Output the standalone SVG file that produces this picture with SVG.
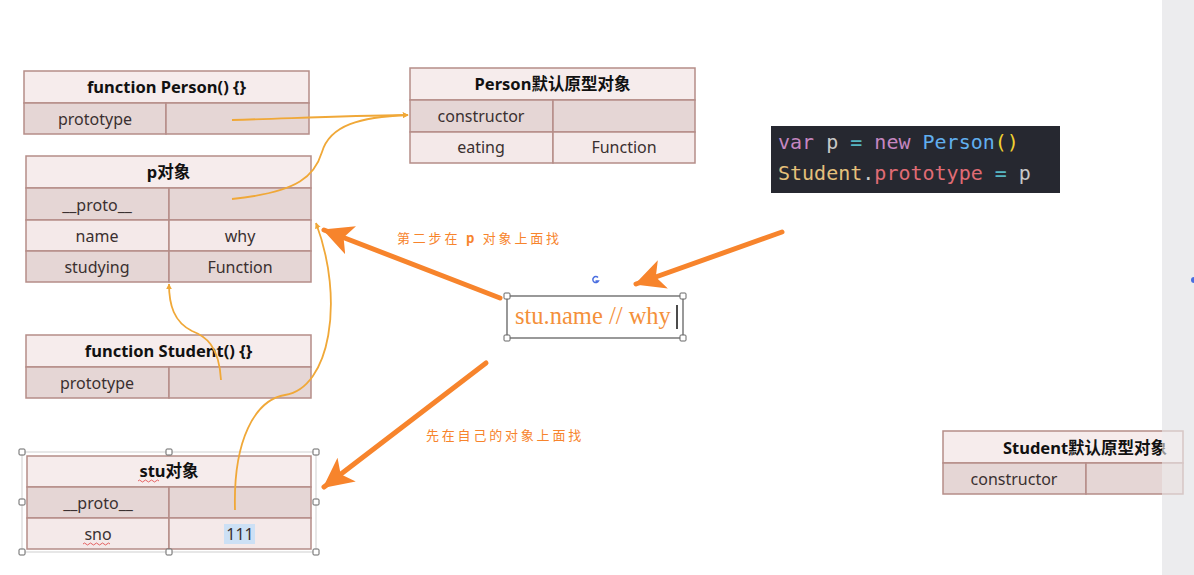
<svg xmlns="http://www.w3.org/2000/svg" width="1194" height="575" viewBox="0 0 1194 575">
<style>
.hd{fill:#f6ecec;stroke:#b58d88;stroke-width:1.5}
.dk{fill:#e5d6d5;stroke:#b58d88;stroke-width:1.5}
.lt{fill:#f4e9e9;stroke:#b58d88;stroke-width:1.5}
.t{font-family:"Noto Sans","Noto Sans CJK SC",sans-serif;font-size:16px;fill:#3a3030;text-anchor:middle}
.b{font-weight:bold;fill:#111;font-size:16.5px}
.thin{fill:none;stroke:#f0a838;stroke-width:1.8}
.thick{fill:none;stroke:#f7842c;stroke-width:5;stroke-linecap:round}
.lbl{font-family:"Noto Sans CJK SC","Liberation Sans",sans-serif;font-size:13px;fill:#f7842c;letter-spacing:2.8px}
.code{font-family:"DejaVu Sans Mono","Liberation Mono",monospace;font-size:20px}
.hdl{fill:#fff;stroke:#666;stroke-width:1}
</style>
<defs>
<marker id="ah" viewBox="0 0 10 10" refX="9" refY="5" markerWidth="6" markerHeight="6" orient="auto" markerUnits="userSpaceOnUse"><path d="M0,0 L10,5 L0,10 z" fill="#f0a838"/></marker>
<marker id="big" viewBox="0 0 10 10" refX="9.5" refY="5" markerWidth="6" markerHeight="6" orient="auto"><path d="M0,0 L10,5 L0,10 L2.5,5 z" fill="#f7842c"/></marker>
</defs>
<rect width="1194" height="575" fill="#fff"/>
<rect x="1162" y="0" width="32" height="575" fill="#ececee"/>
<circle cx="1194" cy="280" r="3" fill="#4a6ee0"/>

<g id="person-fn">
<rect class="hd" x="24" y="71" width="285" height="32"/>
<rect class="dk" x="24" y="103" width="142" height="31"/>
<rect class="dk" x="166" y="103" width="143" height="31"/>
<text class="t b" x="166.5" y="93">function Person() {}</text>
<text class="t" x="95" y="125">prototype</text>
</g>

<g id="person-proto">
<rect class="hd" x="410" y="68" width="285" height="32"/>
<rect class="dk" x="410" y="100" width="143" height="32"/>
<rect class="dk" x="553" y="100" width="142" height="32"/>
<rect class="lt" x="410" y="132" width="143" height="31"/>
<rect class="lt" x="553" y="132" width="142" height="31"/>
<text class="t b" x="552.5" y="90">Person默认原型对象</text>
<text class="t" x="481" y="122">constructor</text>
<text class="t" x="481" y="153">eating</text>
<text class="t" x="624" y="153">Function</text>
</g>

<g id="p-obj">
<rect class="hd" x="26" y="156" width="285" height="32"/>
<rect class="dk" x="26" y="188" width="143" height="32"/>
<rect class="dk" x="169" y="188" width="142" height="32"/>
<rect class="lt" x="26" y="220" width="143" height="31"/>
<rect class="lt" x="169" y="220" width="142" height="31"/>
<rect class="dk" x="26" y="251" width="143" height="31"/>
<rect class="dk" x="169" y="251" width="142" height="31"/>
<text class="t b" x="168.5" y="178">p对象</text>
<text class="t" x="97" y="211">__proto__</text>
<text class="t" x="97" y="242">name</text>
<text class="t" x="240" y="242">why</text>
<text class="t" x="97" y="273">studying</text>
<text class="t" x="240" y="273">Function</text>
</g>

<g id="student-fn">
<rect class="hd" x="26" y="335" width="285" height="32"/>
<rect class="dk" x="26" y="367" width="143" height="31"/>
<rect class="dk" x="169" y="367" width="142" height="31"/>
<text class="t b" x="168.5" y="357">function Student() {}</text>
<text class="t" x="97" y="389">prototype</text>
</g>

<g id="stu-obj">
<rect x="22" y="452" width="294" height="100" fill="none" stroke="#cfcfcf" stroke-width="1"/>
<rect class="hd" x="27" y="456" width="284" height="31"/>
<rect class="dk" x="27" y="487" width="142" height="31"/>
<rect class="dk" x="169" y="487" width="142" height="31"/>
<rect class="lt" x="27" y="518" width="142" height="31"/>
<rect class="lt" x="169" y="518" width="142" height="31"/>
<rect x="224" y="524" width="31" height="20" fill="#cce0f5"/>
<text class="t b" x="169" y="477">stu对象</text>
<text class="t" x="98" y="509">__proto__</text>
<text class="t" x="98" y="540">sno</text>
<text class="t" x="240" y="540">111</text>
<path d="M138,481 q1.5,-2 3,0 t3,0 t3,0 t3,0 t3,0 t3,0 t3,0" fill="none" stroke="#e04040" stroke-width="0.8"/>
<path d="M83,544 q1.5,-2 3,0 t3,0 t3,0 t3,0 t3,0 t3,0 t3,0 t3,0 t3,0" fill="none" stroke="#e04040" stroke-width="0.8"/>
<rect class="hdl" x="19" y="449" width="6" height="6" rx="1"/>
<rect class="hdl" x="166" y="449" width="6" height="6" rx="1"/>
<rect class="hdl" x="313" y="449" width="6" height="6" rx="1"/>
<rect class="hdl" x="19" y="499" width="6" height="6" rx="1"/>
<rect class="hdl" x="313" y="499" width="6" height="6" rx="1"/>
<rect class="hdl" x="19" y="549" width="6" height="6" rx="1"/>
<rect class="hdl" x="166" y="549" width="6" height="6" rx="1"/>
<rect class="hdl" x="313" y="549" width="6" height="6" rx="1"/>
</g>

<g id="student-proto">
<rect class="hd" x="943" y="431" width="240" height="32"/>
<rect class="dk" x="943" y="463" width="143" height="31"/>
<rect class="dk" x="1086" y="463" width="97" height="31"/>
<text class="t b" x="1085" y="454">Student默认原型对象</text>
<text class="t" x="1014" y="485">constructor</text>
<rect x="1162" y="425" width="32" height="75" fill="#ececee" opacity="0.6"/>
</g>

<g id="code">
<rect x="771" y="126" width="289" height="67" fill="#262830"/>
<text class="code" x="778" y="149"><tspan fill="#c586c0">var</tspan><tspan fill="#c8c8c8"> p </tspan><tspan fill="#56b6c2">=</tspan><tspan fill="#c586c0"> new</tspan><tspan fill="#61afef"> Person</tspan><tspan fill="#f0d030">()</tspan></text>
<text class="code" x="778" y="180"><tspan fill="#e5c07b">Student</tspan><tspan fill="#c8c8c8">.</tspan><tspan fill="#e06c75">prototype</tspan><tspan fill="#56b6c2"> =</tspan><tspan fill="#c8c8c8"> p</tspan></text>
</g>

<g id="query">
<rect x="507" y="296" width="176" height="42" fill="#fff" stroke="#555" stroke-width="1.2"/>
<text x="515" y="324" font-family="Liberation Serif,serif" font-size="24.5" fill="#f4903a">stu.name // why</text>
<line x1="677" y1="305" x2="677" y2="329" stroke="#111" stroke-width="1.5"/>
<rect class="hdl" x="504" y="293" width="6" height="6" rx="1"/>
<rect class="hdl" x="680" y="293" width="6" height="6" rx="1"/>
<rect class="hdl" x="504" y="335" width="6" height="6" rx="1"/>
<rect class="hdl" x="680" y="335" width="6" height="6" rx="1"/>
<path d="M598,277.5 a3,3 0 1 0 0.5,3.5 h-3" fill="none" stroke="#4a6ee0" stroke-width="1.5"/>
</g>

<g id="connectors">
<path class="thin" d="M232,120 C300,118 340,116 408,115" marker-end="url(#ah)"/>
<path class="thin" d="M232,199 C300,192 315,175 322,152 C330,125 360,117 408,115" marker-end="url(#ah)"/>
<path class="thin" d="M221,380 C219,345 205,336 192,331 C174,322 169,305 169,284" marker-end="url(#ah)"/>
<path class="thin" d="M235,510 C233,440 255,400 285,395 C330,388 345,300 316,223" marker-end="url(#ah)"/>
<path class="thick" d="M500,298 L324,230" marker-end="url(#big)"/>
<path class="thick" d="M782,232 L636,284" marker-end="url(#big)"/>
<path class="thick" d="M486,363 L324,487" marker-end="url(#big)"/>
<text class="lbl" x="397" y="243">第二步在 <tspan font-weight="bold">p</tspan> 对象上面找</text>
<text class="lbl" x="426" y="440">先在自己的对象上面找</text>
</g>
</svg>
